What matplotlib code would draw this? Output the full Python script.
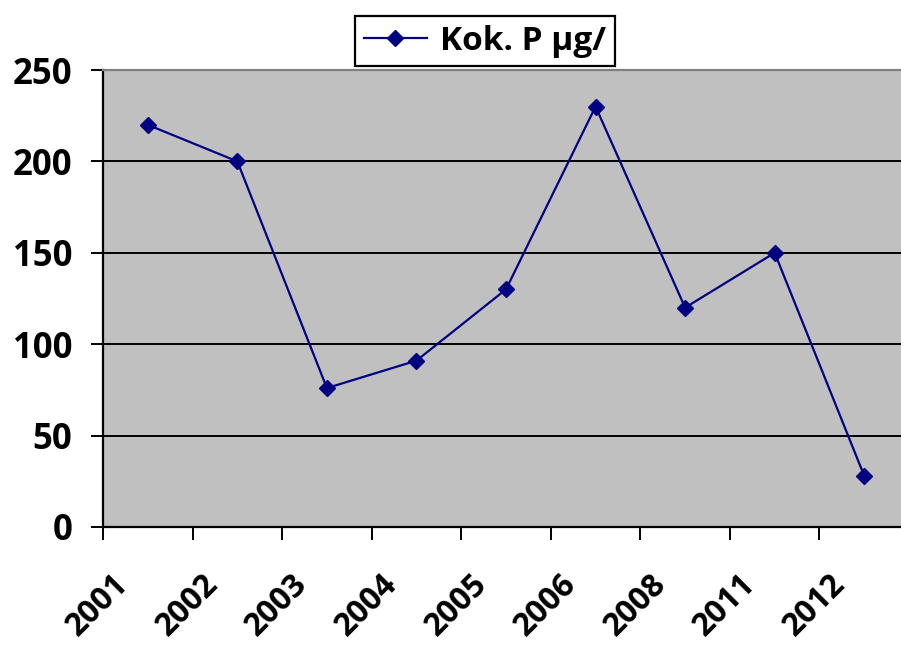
import matplotlib.pyplot as plt
from matplotlib.transforms import ScaledTranslation

plt.rcParams["font.family"] = ["Open Sans", "DejaVu Sans"]
plt.rcParams["font.weight"] = "bold"

years = ["2001", "2002", "2003", "2004", "2005", "2006", "2008", "2011", "2012"]
total_p = [220, 200, 76, 91, 130, 230, 120, 150, 28]
y_ticks = [0, 50, 100, 150, 200, 250]

fig = plt.figure(figsize=(9.01, 6.48), dpi=100)
ax = fig.add_axes([103 / 901, 1 - 527 / 648, 806 / 901, 457 / 648])
ax.set_facecolor("#c0c0c0")

centers = [i + 0.5 for i in range(len(years))]
ax.plot(centers, total_p, color="#000080", linewidth=1.6, marker="D",
        markersize=8, label="Kok. P µg/", zorder=3)

ax.set_xlim(0, len(years))
ax.set_ylim(0, 250)
ax.set_yticks(y_ticks)
ax.set_yticklabels([str(v) for v in y_ticks], fontsize=25, fontweight="bold")
ax.grid(axis="y", color="black", linewidth=1.4)
ax.set_axisbelow(True)

# category boundaries carry the tick marks, centers carry the labels
ax.set_xticks(range(len(years) + 1))
ax.set_xticklabels([])
ax.set_xticks(centers, minor=True)
ax.set_xticklabels(years, minor=True, rotation=45, ha="right", va="center",
                   rotation_mode="anchor", fontsize=23, fontweight="bold")
ax.tick_params(axis="x", which="minor", length=0, pad=0)
ax.tick_params(axis="both", which="major", direction="out", length=9,
               width=1.4, color="black")
ax.tick_params(axis="y", pad=13)
shift = ScaledTranslation(-24 / 100, -52 / 100, fig.dpi_scale_trans)
for lab in ax.xaxis.get_minorticklabels():
    lab.set_transform(lab.get_transform() + shift)

ax.spines["left"].set_linewidth(1.6)
ax.spines["bottom"].set_linewidth(1.6)
ax.spines["top"].set_color("#808080")
ax.spines["top"].set_linewidth(1.6)
ax.spines["right"].set_visible(False)

leg = fig.legend(loc="center", bbox_to_anchor=(485 / 901, 1 - 41 / 648),
                 fancybox=False, edgecolor="black", framealpha=1,
                 prop={"size": 24, "weight": "bold"}, handlelength=1.9,
                 borderpad=0.25, handletextpad=0.4, borderaxespad=0)
leg.get_frame().set_linewidth(1.6)

fig.savefig("out.png", dpi=100)
